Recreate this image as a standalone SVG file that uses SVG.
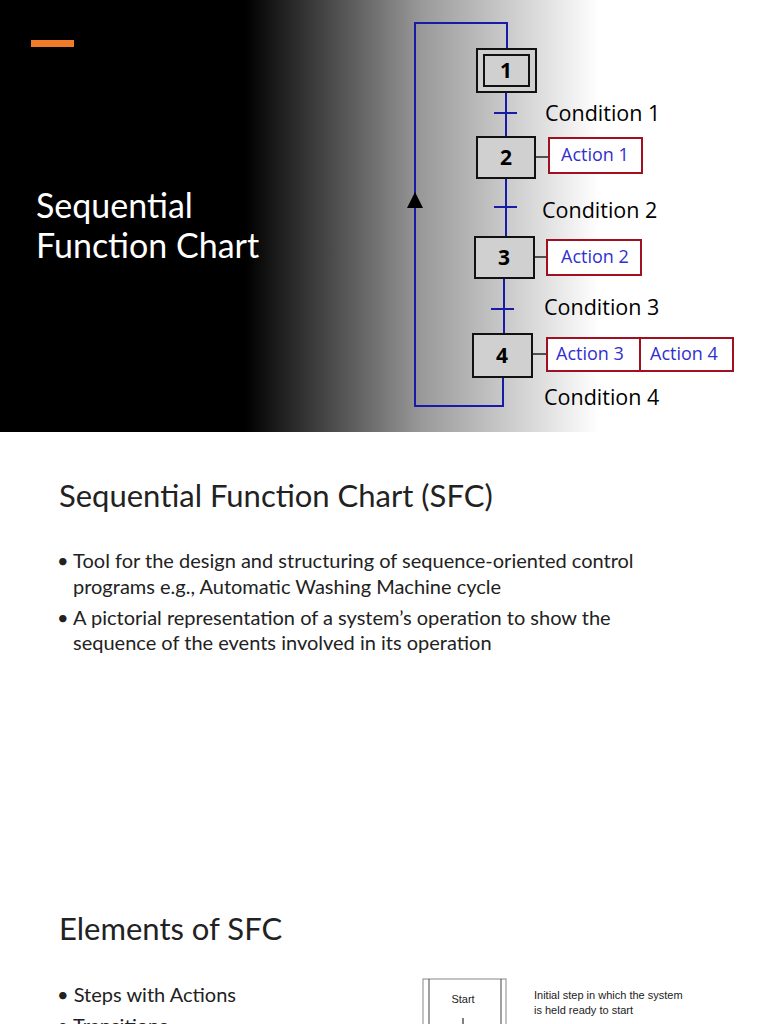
<svg xmlns="http://www.w3.org/2000/svg" width="768" height="1024" viewBox="0 0 768 1024">
<defs>
<linearGradient id="bg" x1="0" y1="0" x2="768" y2="0" gradientUnits="userSpaceOnUse">
<stop offset="0" stop-color="#000"/><stop offset="0.32" stop-color="#000"/><stop offset="0.55" stop-color="#9a9a9a"/><stop offset="0.78" stop-color="#fff"/><stop offset="1" stop-color="#fff"/>
</linearGradient>
<marker id="ah" viewBox="0 0 10 10" refX="5" refY="5" markerWidth="8" markerHeight="10" orient="auto"><path d="M0,0L10,5L0,10z" fill="#000"/></marker>
</defs>
<style>
.t{font-family:Lato,"Open Sans",sans-serif;fill:#222}
.step{fill:#d0d0d0;stroke:#111;stroke-width:2}
.lbl{font-family:"Open Sans",sans-serif;font-weight:bold;font-size:21px;fill:#000;text-anchor:middle}
.act{fill:#fff;stroke:#a01020;stroke-width:2}
.at{font-family:"Open Sans",sans-serif;font-size:18px;fill:#3030d0}
.cond{font-family:"Open Sans",sans-serif;font-size:21.5px;fill:#000}
.bl{stroke:#1a1aa8;stroke-width:2;fill:none}
.sm{font-family:"Liberation Sans",sans-serif;font-size:11px;fill:#222}
</style>
<rect x="0" y="0" width="768" height="432" fill="url(#bg)"/>
<rect x="31" y="40" width="43" height="7" fill="#f07c2a"/>
<text class="t" x="36" y="218" font-size="34" style="fill:#fff">Sequential</text>
<text class="t" x="36" y="258" font-size="34" style="fill:#fff">Function Chart</text>
<g id="connectors">
<path class="bl" d="M503,377V406H415V23H507V49"/>
<path class="bl" d="M415,205V200" marker-end="url(#ah)"/>
<path class="bl" d="M506,92V137M506,178V237M504,278V334"/>
<path class="bl" d="M494,113H517M494,207H517M491,309H514"/>
<path d="M535,157H549M534,257H547M532,354H547" stroke="#222" stroke-width="1.5"/>
</g>
<g id="step1"><rect class="step" x="477" y="49" width="59" height="43"/><rect x="484" y="55" width="45" height="31" fill="none" stroke="#111" stroke-width="2"/><text class="lbl" x="506" y="78">1</text></g>
<g id="step2"><rect class="step" x="477" y="137" width="58" height="41"/><text class="lbl" x="506" y="165">2</text></g>
<g id="step3"><rect class="step" x="475" y="237" width="59" height="41"/><text class="lbl" x="504" y="265">3</text></g>
<g id="step4"><rect class="step" x="473" y="334" width="59" height="43"/><text class="lbl" x="502" y="363">4</text></g>
<g id="action1"><rect class="act" x="549" y="138" width="93" height="35"/><text class="at" x="561" y="161">Action 1</text></g>
<g id="action2"><rect class="act" x="547" y="240" width="94" height="35"/><text class="at" x="561" y="263">Action 2</text></g>
<g id="action3"><rect class="act" x="547" y="338" width="93" height="33"/><text class="at" x="556" y="360">Action 3</text></g>
<g id="action4"><rect class="act" x="640" y="338" width="93" height="33"/><text class="at" x="650" y="360">Action 4</text></g>
<text class="cond" x="545" y="121">Condition 1</text>
<text class="cond" x="542" y="218">Condition 2</text>
<text class="cond" x="544" y="315">Condition 3</text>
<text class="cond" x="544" y="405">Condition  4</text>
<text class="t" x="59" y="507" font-size="31">Sequential Function Chart (SFC)</text>
<g class="t" font-size="20">
<text x="57" y="568">• Tool for the design and structuring of sequence-oriented control</text>
<text x="73" y="594">programs e.g., Automatic Washing Machine cycle</text>
<text x="57" y="625">• A pictorial representation of a system’s operation to show the</text>
<text x="73" y="650">sequence of the events involved in its operation</text>
</g>
<text class="t" x="59" y="940" font-size="31">Elements of SFC</text>
<text class="t" x="57" y="1002" font-size="20">• Steps with Actions</text>
<text class="t" x="57" y="1033" font-size="20">• Transitions</text>
<g id="start">
<rect x="423" y="979" width="83" height="60" fill="#fff" stroke="#888"/>
<path d="M429,979V1030M501,979V1030" stroke="#444"/>
<text class="sm" x="463" y="1003" text-anchor="middle">Start</text>
<path d="M463,1018V1030" stroke="#000"/>
</g>
<text class="sm" x="534" y="999">Initial step in which the system</text>
<text class="sm" x="534" y="1014">is held ready to start</text>
</svg>
